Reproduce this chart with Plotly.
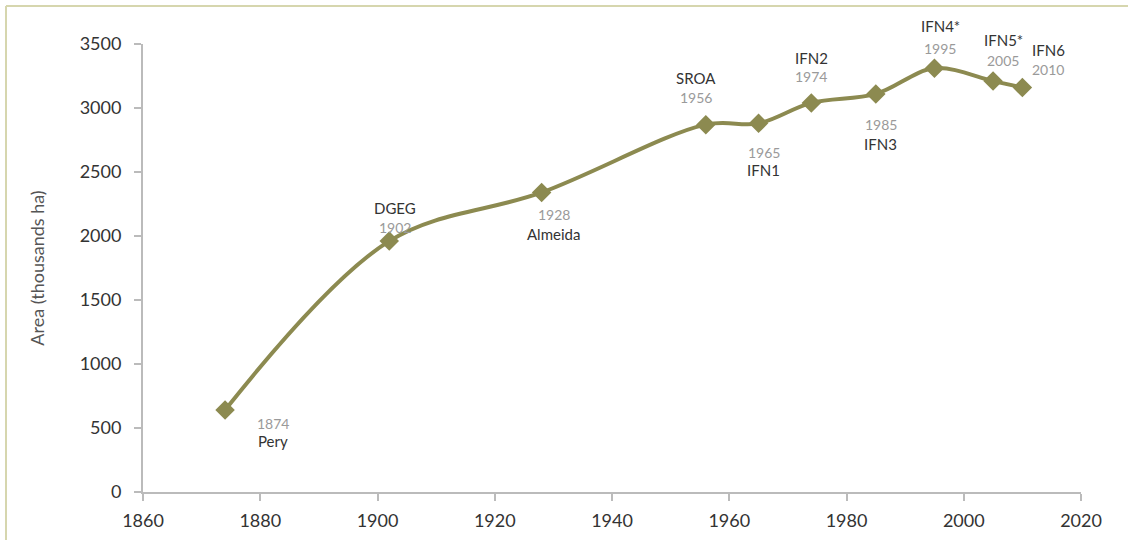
import plotly.graph_objects as go

years = [1874, 1902, 1928, 1956, 1965, 1974, 1985, 1995, 2005, 2010]
area = [640, 1960, 2340, 2870, 2880, 3040, 3110, 3310, 3210, 3160]
sources = ["Pery", "DGEG", "Almeida", "SROA", "IFN1", "IFN2", "IFN3", "IFN4*", "IFN5*", "IFN6"]
x_ticks = [1860, 1880, 1900, 1920, 1940, 1960, 1980, 2000, 2020]
y_ticks = [0, 500, 1000, 1500, 2000, 2500, 3000, 3500]

# label placement (pixel offsets of year label and source label from the point)
# (dx, dy_year, dy_name) with screen y down
offsets = [
    (48, 13, 31),
    (6, -14, -33),
    (12, 22, 42),
    (-10, -27, -47),
    (5, 29, 47),
    (0, -26, -45),
    (5, 31, 50),
    (6, -20, -42),
    (10, -21, -41),
    (26, -18, -38),
]

line_color = "#8c8a50"

fig = go.Figure()
fig.add_trace(go.Scatter(
    x=years, y=area, mode="lines+markers",
    line=dict(color=line_color, width=4, shape="spline", smoothing=1),
    marker=dict(symbol="diamond", size=15, color=line_color),
    showlegend=False, hoverinfo="x+y",
))

for yr, val, src, (dx, dyy, dyn) in zip(years, area, sources, offsets):
    fig.add_annotation(x=yr, y=val, xref="x", yref="y", text=str(yr), showarrow=False,
                       xshift=dx, yshift=-dyy, font=dict(family="Lato", size=14, color="#9a9a9a"))
    fig.add_annotation(x=yr, y=val, xref="x", yref="y", text=src, showarrow=False,
                       xshift=dx, yshift=-dyn, font=dict(family="Lato", size=15, color="#333333"))

W, H = 1128, 540
ml, mr, mt, mb = 143, 47, 44, 48
pw, ph = W - ml - mr, H - mt - mb

def px(xp):
    return (xp - ml) / pw

def py(yp):
    return 1 - (yp - mt) / ph

border = "#d6d6ae"
fig.add_shape(type="line", xref="paper", yref="paper", x0=px(6), x1=px(6), y0=py(545), y1=py(6),
              line=dict(color=border, width=2))
fig.add_shape(type="line", xref="paper", yref="paper", x0=px(6), x1=px(1130), y0=py(6), y1=py(6),
              line=dict(color=border, width=2))

fig.update_layout(
    width=W, height=H,
    margin=dict(l=ml, r=mr, t=mt, b=mb, autoexpand=False),
    plot_bgcolor="white", paper_bgcolor="white",
    font=dict(family="Lato", color="#333333"),
)
fig.update_xaxes(range=[1860, 2020], tickvals=x_ticks, showgrid=False, zeroline=False,
                 showline=True, linecolor="#bbbbbb", linewidth=2, ticks="outside",
                 tickcolor="#bbbbbb", ticklen=7, tickwidth=2, ticklabelstandoff=4,
                 automargin=False,
                 tickfont=dict(family="Lato", size=18, color="#333333"))
fig.update_yaxes(range=[0, 3500], tickvals=y_ticks, showgrid=False, zeroline=False,
                 showline=True, linecolor="#bbbbbb", linewidth=2, ticks="outside",
                 tickcolor="#bbbbbb", ticklen=7, tickwidth=2, ticklabelstandoff=9,
                 automargin=False,
                 tickfont=dict(family="Lato", size=18, color="#333333"),
                 title=dict(text="Area (thousands ha)", font=dict(family="Lato", size=18, color="#555555"),
                            standoff=30))

fig.write_html("out.html", config={"displayModeBar": False},
               post_script="document.body.style.margin='0';document.body.style.overflow='hidden';")
